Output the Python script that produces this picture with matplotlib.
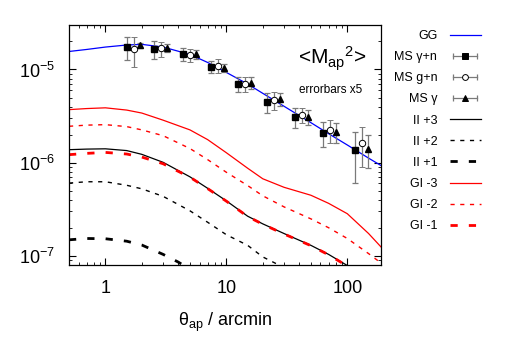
import matplotlib
matplotlib.use("Agg")
import matplotlib.pyplot as plt
from matplotlib.lines import Line2D
from matplotlib.legend_handler import HandlerLine2D, HandlerTuple

plt.rcParams['font.family'] = ['Liberation Sans', 'DejaVu Sans']
plt.rcParams['mathtext.fontset'] = 'custom'
plt.rcParams['mathtext.rm'] = 'Liberation Sans'
plt.rcParams['mathtext.it'] = 'Liberation Sans:italic'
plt.rcParams['axes.unicode_minus'] = False

# ---------------- data ----------------
theta = [0.5, 0.7, 1, 1.5, 2, 3, 5, 7, 10, 15, 20, 30, 50, 70, 100, 150, 190]
gg = [1.56e-5, 1.64e-5, 1.74e-5, 1.83e-5, 1.86e-5, 1.74e-5, 1.45e-5, 1.19e-5, 9.3e-6,
      6.98e-6, 5.55e-6, 4.03e-6, 2.69e-6, 2.05e-6, 1.55e-6, 1.12e-6, 9.33e-7]
gi3 = [3.71e-6, 3.81e-6, 3.88e-6, 3.67e-6, 3.41e-6, 2.86e-6, 2.25e-6, 1.77e-6, 1.28e-6,
       8.73e-7, 6.73e-7, 5.45e-7, 4.48e-7, 3.67e-7, 2.84e-7, 1.74e-7, 1.25e-7]
gi2 = [2.46e-6, 2.53e-6, 2.56e-6, 2.44e-6, 2.25e-6, 1.95e-6, 1.42e-6, 1.08e-6, 7.9e-7,
       5.69e-7, 4.42e-7, 3.36e-7, 2.5e-7, 2.01e-7, 1.54e-7, 1.06e-7, 8.4e-8]
theta_ii3 = [0.5, 0.7, 1, 1.5, 2, 3, 5, 7, 10, 15, 20, 30, 50, 70, 100]
ii3 = [1.38e-6, 1.40e-6, 1.41e-6, 1.35e-6, 1.23e-6, 1.01e-6, 7.06e-7, 5.32e-7, 3.9e-7,
       2.67e-7, 2.21e-7, 1.74e-7, 1.30e-7, 1.04e-7, 7.9e-8]
gi1 = [1.22e-6, 1.26e-6, 1.29e-6, 1.24e-6, 1.15e-6, 9.75e-7, 7.0e-7, 5.28e-7, 3.87e-7,
       2.65e-7, 2.19e-7, 1.72e-7, 1.29e-7, 1.03e-7, 7.8e-8]
theta_ii2 = [0.5, 0.7, 1, 1.5, 2, 3, 5, 7, 10, 15, 20, 30]
ii2 = [6.05e-7, 6.25e-7, 6.25e-7, 5.73e-7, 5.25e-7, 4.36e-7, 3.05e-7, 2.30e-7, 1.69e-7,
       1.30e-7, 9.77e-8, 7.5e-8]
theta_ii1 = [0.5, 0.7, 1, 1.5, 2, 3, 4, 5]
ii1 = [1.49e-7, 1.54e-7, 1.53e-7, 1.44e-7, 1.31e-7, 1.04e-7, 8.6e-8, 7.2e-8]

theta_pts = [1.51, 2.53, 4.39, 7.47, 12.5, 21.7, 37, 63, 116]
sq_y = [1.75e-5, 1.64e-5, 1.47e-5, 1.07e-5, 7.0e-6, 4.53e-6, 3.12e-6, 2.10e-6, 1.38e-6]
sq_err = [5.0e-6, 3.6e-6, 2.5e-6, 1.5e-6, 1.25e-6, 1.1e-6, 7.9e-7, 6.4e-7, 7.7e-7]
circ_y = [1.65e-5, 1.68e-5, 1.43e-5, 1.10e-5, 7.07e-6, 4.75e-6, 3.25e-6, 2.26e-6, 1.64e-6]
circ_err = [5.9e-6, 3.1e-6, 2.3e-6, 1.8e-6, 1.3e-6, 1.05e-6, 6.0e-7, 6.3e-7, 7.5e-7]
tri_y = [1.81e-5, 1.70e-5, 1.45e-5, 1.05e-5, 7.24e-6, 4.85e-6, 3.12e-6, 2.15e-6, 1.42e-6]
tri_err = [9e-7, 1.7e-6, 1.5e-6, 1.0e-6, 1.0e-6, 7.8e-7, 6.0e-7, 5.3e-7, 5.5e-7]

xticks = [1, 10, 100]
xtick_labels = ['1', '10', '100']

# ---------------- figure ----------------
fig = plt.figure(figsize=(5.06, 3.54), dpi=100)
ax = fig.add_axes([69/506, 1-265/354, 312/506, 240/354])
ax.set_xscale('log')
ax.set_yscale('log')

blue = '#0000ff'
red = '#ff0000'
gray = '#7a7a7a'

l_gg, = ax.plot(theta, gg, color=blue, lw=0.9)
l_ii3, = ax.plot(theta_ii3, ii3, color='k', lw=0.9)
l_ii2, = ax.plot(theta_ii2, ii2, color='k', lw=1.0, dashes=(3, 4))
l_ii1, = ax.plot(theta_ii1, ii1, color='k', lw=2.0, dashes=(2.6, 4.0))
l_gi3, = ax.plot(theta, gi3, color=red, lw=0.9)
l_gi2, = ax.plot(theta, gi2, color=red, lw=1.0, dashes=(3, 4))
l_gi1, = ax.plot(theta_ii3, gi1, color=red, lw=2.0, dashes=(2.6, 4.0))

shift_c = 1.14
shift_t = 1.28
ekw = dict(ecolor=gray, elinewidth=0.9, capsize=2.3, capthick=0.9, ls='none')
ax.errorbar(theta_pts, sq_y, yerr=sq_err, marker='s', ms=4.3, mfc='k', mec='k', **ekw)
ax.errorbar([t*shift_c for t in theta_pts], circ_y, yerr=circ_err, marker='o', ms=4.6,
            mfc='white', mec='k', mew=0.7, **ekw)
ax.errorbar([t*shift_t for t in theta_pts], tri_y, yerr=tri_err, marker='^', ms=4.8,
            mfc='k', mec='k', **ekw)

ax.set_xlim(0.5, 190)
ax.set_ylim(8e-8, 3.0e-5)
ax.set_xticks(xticks)
ax.set_xticklabels(xtick_labels)
ax.tick_params(which='both', direction='in', top=True, right=True, labelsize=13)
ax.tick_params(which='major', length=5, width=0.8, pad=11)
ax.tick_params(which='minor', length=2.5, width=0.6)
ax.tick_params(axis='y', which='major', pad=10)
for s in ax.spines.values():
    s.set_linewidth(0.9)

ax.set_xlabel('θ$_{\\mathrm{ap}}$ / arcmin', fontsize=13, labelpad=10)

ax.text(0.843, 0.86, '<M$_{\\mathrm{ap}}$$^{2}$>', transform=ax.transAxes,
        ha='center', va='center', fontsize=15)
ax.text(0.84, 0.729, 'errorbars x5', transform=ax.transAxes,
        ha='center', va='center', fontsize=8.5)

# legend handles (gnuplot style)
def ms_handle(marker, mfc):
    bar = Line2D([], [], color=gray, lw=0.9, marker='|', ms=5, mew=0.9)
    pt = Line2D([], [], ls='none', marker=marker, ms=4.2, mfc=mfc, mec='k', mew=0.7)
    return (bar, pt), bar

h_sq, b_sq = ms_handle('s', 'k')
h_ci, b_ci = ms_handle('o', 'white')
h_tr, b_tr = ms_handle('^', 'k')

handles = [l_gg, h_sq, h_ci, h_tr, l_ii3, l_ii2, l_ii1, l_gi3, l_gi2, l_gi1]
labels = ['GG', 'MS γ+n', 'MS g+n', 'MS γ', 'II +3', 'II +2', 'II +1', 'GI -3', 'GI -2', 'GI -1']
hmap = {b_sq: HandlerLine2D(numpoints=2), b_ci: HandlerLine2D(numpoints=2),
        b_tr: HandlerLine2D(numpoints=2), tuple: HandlerTuple(ndivide=1)}
fig.legend(handles, labels, handler_map=hmap, loc='upper right',
           bbox_to_anchor=(481/506, 1-30/354), bbox_transform=fig.transFigure,
           frameon=False, markerfirst=False, fontsize=9, borderpad=0, borderaxespad=0,
           labelspacing=0.73, handlelength=2.5, handletextpad=1.0, numpoints=1)

fig.savefig('out.png', dpi=100)
